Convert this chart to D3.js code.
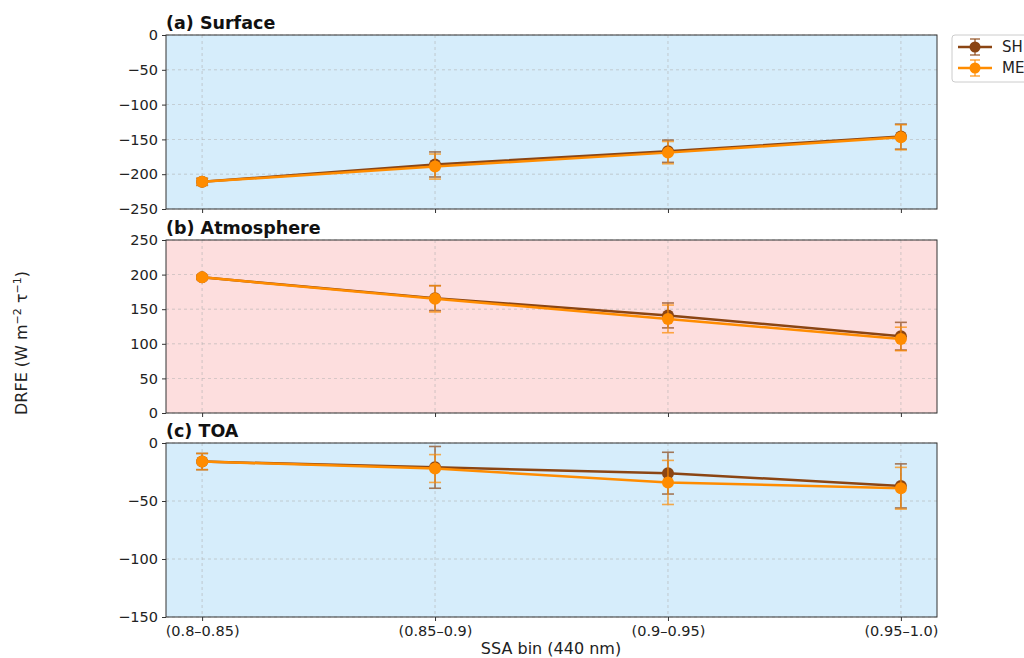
<!DOCTYPE html>
<html><head><meta charset="utf-8">
<script src="https://cdn.jsdelivr.net/npm/d3@7"></script>
<style>body{margin:0;background:#fff}svg{font-family:"DejaVu Sans",sans-serif}</style>
</head><body><svg id="c" width="1024" height="658"></svg>
<script>
const categories = ["(0.8–0.85)", "(0.85–0.9)", "(0.9–0.95)", "(0.95–1.0)"];
const panelTitles = ["(a) Surface", "(b) Atmosphere", "(c) TOA"];
const seriesNames = ["SH", "ME"];
// values per panel
const surfSH = [-211, -186, -167, -146];
const surfSHerr = [5, 18, 16, 18];
const surfME = [-211, -189, -169, -147];
const surfMEerr = [5, 18, 16, 18];
const atmSH = [196, 166, 141, 111];
const atmSHerr = [3, 18, 18, 20];
const atmME = [196, 165, 136, 107];
const atmMEerr = [3, 19, 20, 17];
const toaSH = [-16, -21, -26, -37];
const toaSHerr = [7, 18, 18, 19];
const toaME = [-16, -22, -34, -39];
const toaMEerr = [7, 12, 19, 18];
const ticksA = [0, -50, -100, -150, -200, -250];
const ticksB = [0, 50, 100, 150, 200, 250];
const ticksC = [0, -50, -100, -150];
const colors = {SH: "#8B4513", ME: "#FF8C00"};

const panels = [
  {title: panelTitles[0], top: 35, bottom: 209, domain: [-250, 0], ticks: ticksA, bg: "#d6edfb",
   series: {SH: [surfSH, surfSHerr], ME: [surfME, surfMEerr]}},
  {title: panelTitles[1], top: 240, bottom: 413, domain: [0, 250], ticks: ticksB, bg: "#fddede",
   series: {SH: [atmSH, atmSHerr], ME: [atmME, atmMEerr]}},
  {title: panelTitles[2], top: 443, bottom: 617, domain: [-150, 0], ticks: ticksC, bg: "#d6edfb",
   series: {SH: [toaSH, toaSHerr], ME: [toaME, toaMEerr]}}
];

const svg = d3.select("#c");
const left = 166, right = 937;
const x = d3.scalePoint().domain(categories).range([left, right]).padding(0.155);
const fmt = d => (d < 0 ? "\u2212" + Math.abs(d) : String(d));

panels.forEach((p, pi) => {
  const y = d3.scaleLinear().domain(p.domain).range([p.bottom, p.top]);
  const g = svg.append("g");
  g.append("rect").attr("x", left).attr("y", p.top).attr("width", right - left).attr("height", p.bottom - p.top).attr("fill", p.bg);
  // grid
  g.selectAll(".gy").data(p.ticks).enter().append("line")
    .attr("x1", left).attr("x2", right).attr("y1", d => y(d)).attr("y2", d => y(d))
    .attr("stroke", "#b0b0b0").attr("stroke-width", 0.8).attr("stroke-dasharray", "3,3").attr("opacity", 0.7);
  g.selectAll(".gx").data(categories).enter().append("line")
    .attr("x1", d => x(d)).attr("x2", d => x(d)).attr("y1", p.top).attr("y2", p.bottom)
    .attr("stroke", "#b0b0b0").attr("stroke-width", 0.8).attr("stroke-dasharray", "3,3").attr("opacity", 0.7);
  // axes
  const ya = d3.axisLeft(y).tickValues(p.ticks).tickFormat(fmt).tickSize(4).tickPadding(4);
  const yg = g.append("g").attr("transform", `translate(${left},0)`).call(ya);
  yg.style("font-size", "14.5px").style("font-family", "DejaVu Sans");
  yg.select(".domain").remove();
  yg.selectAll("text").style("fill", "#222");
  yg.selectAll("line").attr("stroke", "#333");
  const xa = d3.axisBottom(x).tickSize(4).tickPadding(5);
  const xg = g.append("g").attr("transform", `translate(0,${p.bottom})`).call(xa);
  xg.style("font-size", "14.5px").style("font-family", "DejaVu Sans");
  xg.select(".domain").remove();
  xg.selectAll("line").attr("stroke", "#333");
  if (pi < 2) xg.selectAll("text").remove();
  else xg.selectAll("text").style("fill", "#222");
  g.append("rect").attr("x", left).attr("y", p.top).attr("width", right - left).attr("height", p.bottom - p.top)
    .attr("fill", "none").attr("stroke", "#333").attr("stroke-width", 1);
  g.append("text").attr("x", left).attr("y", p.top - 6).attr("font-weight", "bold").style("font-size", "17.5px")
    .attr("fill", "#111").text(p.title);
  seriesNames.forEach(s => {
    const [vals, errs] = p.series[s];
    const col = colors[s];
    const pts = categories.map((c, i) => ({c, v: vals[i], e: errs[i]}));
    const eg = g.append("g").attr("stroke", col).attr("stroke-width", 1.6).attr("opacity", 0.7);
    pts.forEach(d => {
      eg.append("line").attr("x1", x(d.c)).attr("x2", x(d.c)).attr("y1", y(d.v - d.e)).attr("y2", y(d.v + d.e));
      [d.v - d.e, d.v + d.e].forEach(v => eg.append("line").attr("x1", x(d.c) - 6).attr("x2", x(d.c) + 6).attr("y1", y(v)).attr("y2", y(v)));
    });
    g.append("path").datum(pts).attr("fill", "none").attr("stroke", col).attr("stroke-width", 2.5)
      .attr("d", d3.line().x(d => x(d.c)).y(d => y(d.v)));
    g.selectAll(null).data(pts).enter().append("circle").attr("cx", d => x(d.c)).attr("cy", d => y(d.v))
      .attr("r", 6).attr("fill", col);
  });
});

// axis labels
svg.append("text").attr("x", 551).attr("y", 654).attr("text-anchor", "middle").style("font-size", "16px").attr("fill", "#222").text("SSA bin (440 nm)");
const yl = svg.append("text").attr("transform", "translate(27,343) rotate(-90)").attr("text-anchor", "middle").style("font-size", "16px").attr("fill", "#222");
yl.append("tspan").text("DRFE (W m");
yl.append("tspan").attr("dy", -6).style("font-size", "11px").text("\u22122");
yl.append("tspan").attr("dy", 6).text(" \u03C4");
yl.append("tspan").attr("dy", -6).style("font-size", "11px").text("\u22121");
yl.append("tspan").attr("dy", 6).text(")");

// legend
const lg = svg.append("g").attr("transform", "translate(952,35)");
lg.append("rect").attr("x", 0).attr("y", 0).attr("width", 80).attr("height", 47).attr("rx", 3)
  .attr("fill", "#fff").attr("stroke", "#ccc");
seriesNames.forEach((s, i) => {
  const yy = 12 + i * 21, col = colors[s];
  lg.append("line").attr("x1", 6).attr("x2", 40).attr("y1", yy).attr("y2", yy).attr("stroke", col).attr("stroke-width", 2.5);
  lg.append("line").attr("x1", 23).attr("x2", 23).attr("y1", yy - 8).attr("y2", yy + 8).attr("stroke", col).attr("stroke-width", 1.6).attr("opacity", 0.7);
  [yy - 8, yy + 8].forEach(v => lg.append("line").attr("x1", 18).attr("x2", 28).attr("y1", v).attr("y2", v).attr("stroke", col).attr("stroke-width", 1.6).attr("opacity", 0.7));
  lg.append("circle").attr("cx", 23).attr("cy", yy).attr("r", 5.5).attr("fill", col);
  lg.append("text").attr("x", 50).attr("y", yy + 5).style("font-size", "15px").attr("fill", "#222").text(s);
});
</script></body></html>
